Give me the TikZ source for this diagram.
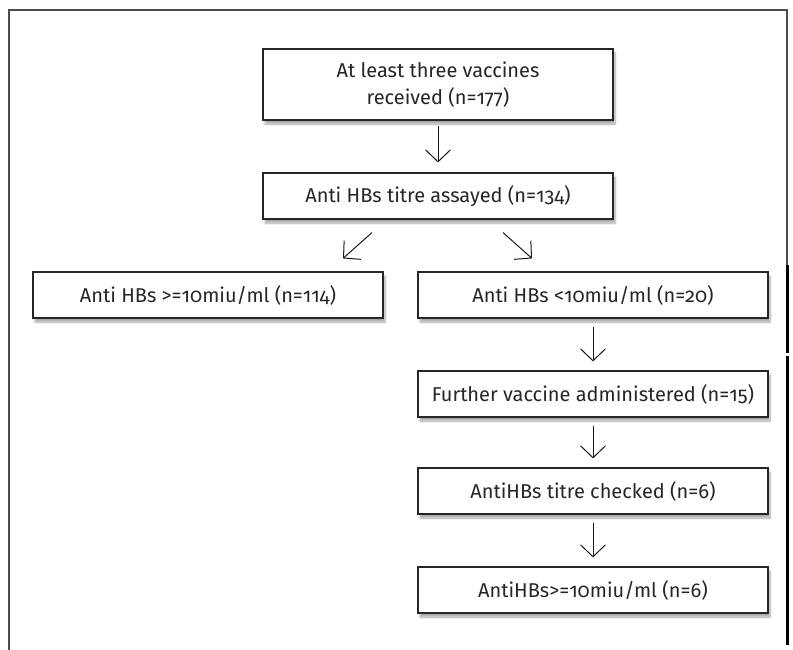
\documentclass[tikz,border=0pt]{standalone}
\usepackage{fontspec}
\setmainfont{Fira Sans}[Numbers=OldStyle]
\usetikzlibrary{arrows.meta,shadows.blur}

\begin{document}
\begin{tikzpicture}[x=1pt, y=-1pt,
                    every node/.style={font=\fontsize{20}{27}\selectfont, text=black!85},
                    stage/.style={rectangle, draw=black!85, line width=1.1pt, fill=white,
                                  minimum width=350pt, minimum height=46pt, inner sep=0pt, align=center,
                                  blur shadow={shadow xshift=2pt, shadow yshift=-4pt, shadow blur steps=8, shadow opacity=35}},
                    flow/.style={-{Straight Barb[length=12pt, width=25pt, line width=1pt]}, line width=1pt, black!90,
                                 shorten <=8pt, shorten >=9pt}
                ]
                \useasboundingbox (0,0) rectangle (793,650);

                % cadre
                \draw[black!70, line width=1.4pt] (9,650) -- (9,10) -- (787,10) -- (787,265);
                \draw[black, line width=3pt] (787,265) -- (787,353);
                \draw[black, line width=3pt] (787,356) -- (787,645);

                \node[stage, minimum height=71pt] (recv) at (438,84.5) {At least three vaccines \\ received (n=177)};
                \node[stage] (assay) at (438,196) {Anti HBs titre assayed (n=134)};
                \node[stage] (high) at (208,295) {Anti HBs >=10miu/ml (n=114)};
                \node[stage] (low) at (593,295) {Anti HBs <10miu/ml (n=20)};
                \node[stage] (boost) at (593,394) {Further vaccine administered (n=15)};
                \node[stage] (check) at (593,491) {AntiHBs titre checked (n=6)};
                \node[stage] (final) at (593,590) {AntiHBs>=10miu/ml (n=6)};

                \draw[flow, shorten <=5pt, shorten >=10pt] (recv) -- (assay);
                \draw[flow, shorten <=0pt, shorten >=0pt] ([xshift=-66pt, yshift=-13pt]assay.south) -- ([xshift=135pt, yshift=13pt]high.north);
                \draw[flow, shorten <=0pt, shorten >=0pt] ([xshift=65pt, yshift=-13pt]assay.south) -- ([xshift=-61pt, yshift=13pt]low.north);
                \draw[flow] (low) -- (boost);
                \draw[flow] (boost) -- (check);
                \draw[flow] (check) -- (final);
                \end{tikzpicture}
\end{document}
